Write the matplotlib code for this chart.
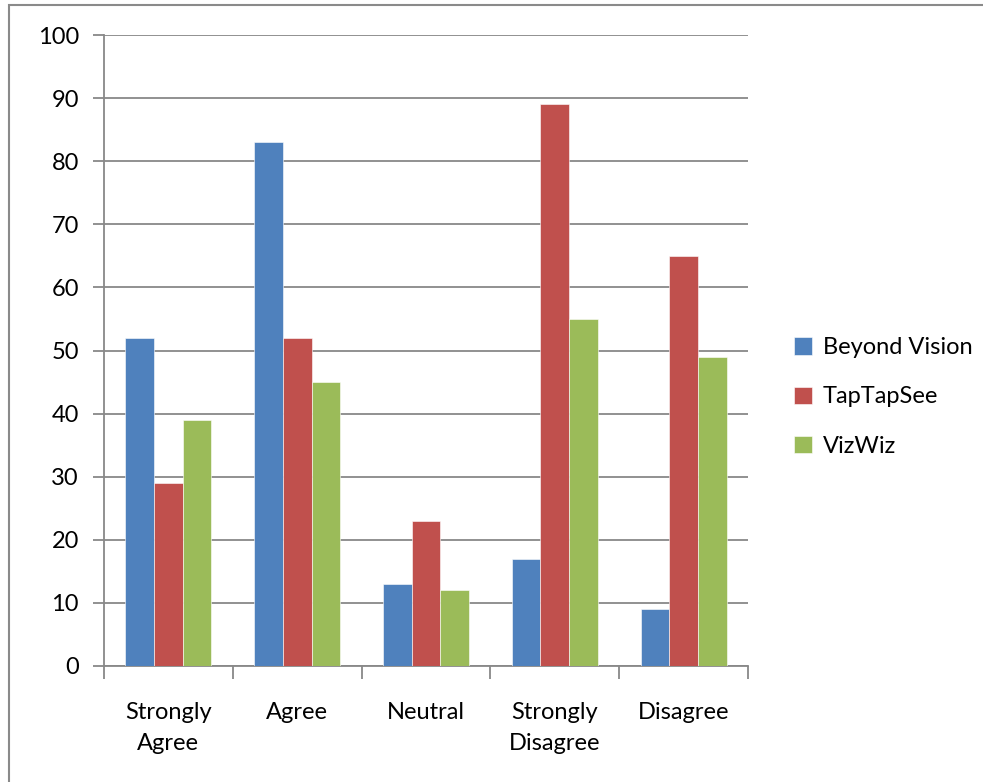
import numpy as np
import matplotlib.pyplot as plt
from matplotlib.patches import Rectangle

categories = ['Strongly\nAgree', 'Agree', 'Neutral', 'Strongly\nDisagree', 'Disagree']
beyond_vision = [52, 83, 13, 17, 9]
taptapsee = [29, 52, 23, 89, 65]
vizwiz = [39, 45, 12, 55, 49]
series_names = ['Beyond Vision', 'TapTapSee', 'VizWiz']
colors = ['#4F81BD', '#C0504D', '#9BBB59']

plt.rcParams['font.family'] = ['Lato', 'DejaVu Sans']

W, H = 983, 782
fig = plt.figure(figsize=(W/100, H/100), dpi=100)
ax = fig.add_axes([104/W, 1-666/H, (748-104)/W, (666-35)/H])

# outer chart frame (left and top edges visible, rest runs off the image)
fig.patches.append(Rectangle((9/W, -0.1), 1.2, 1-5/H+0.1, transform=fig.transFigure,
                             fill=False, edgecolor='#8a8a8a', linewidth=1.5))

x = np.arange(len(categories))
bw = 1/4.5
for i, (vals, name) in enumerate(zip([beyond_vision, taptapsee, vizwiz], series_names)):
    ax.bar(x + (i-1)*bw, vals, width=bw, color=colors[i], label=name,
           edgecolor='white', linewidth=0.4, zorder=3)

ax.set_xlim(-0.5, len(categories)-0.5)
ax.set_ylim(0, 100)
ax.set_yticks(range(0, 101, 10))
ax.yaxis.grid(True, color='#888888', linewidth=1.3, zorder=0)
ax.set_axisbelow(True)

for s in ['top', 'right']:
    ax.spines[s].set_visible(False)
for s in ['left', 'bottom']:
    ax.spines[s].set_color('#888888')
    ax.spines[s].set_linewidth(1.3)

ax.tick_params(axis='y', length=8, width=1.3, color='#888888', labelsize=17, pad=10)
ax.set_xticks(np.arange(len(categories)+1) - 0.5)
ax.set_xticklabels([])
ax.tick_params(axis='x', length=9, width=1.3, color='#888888')
ax.set_xticks(x, minor=True)
ax.set_xticklabels(categories, minor=True, fontsize=17, linespacing=1.6)
ax.tick_params(axis='x', which='minor', length=0, pad=26)

leg = ax.legend(loc='center left', bbox_to_anchor=(785/W, 1-397/H),
                bbox_transform=fig.transFigure, frameon=False, fontsize=17,
                handlelength=0.75, handleheight=0.75, handletextpad=0.45,
                labelspacing=1.2, borderaxespad=0)

fig.savefig('out.png', dpi=100)
